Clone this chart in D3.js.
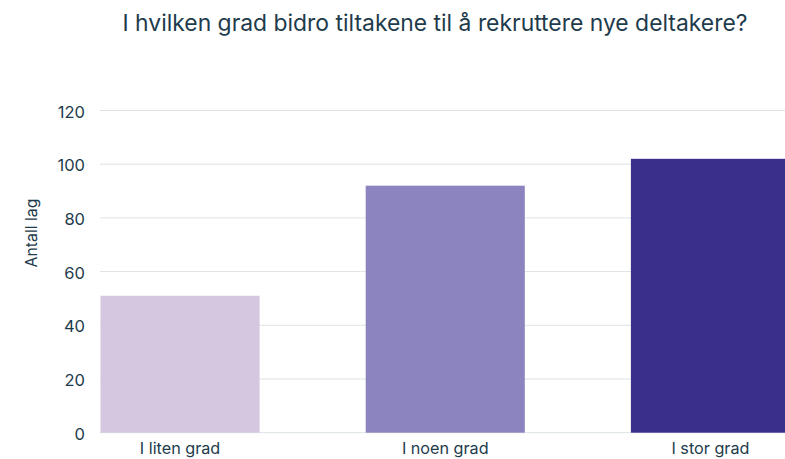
<!DOCTYPE html>
<html><head><meta charset="utf-8">
<script src="https://cdn.jsdelivr.net/npm/d3@7"></script>
<style>body{margin:0;background:#fff}svg{display:block;font-family:Inter,"Open Sans",sans-serif}</style>
</head><body><svg id="c" width="785" height="459"></svg>
<script>
const categories = ["I liten grad", "I noen grad", "I stor grad"];
const values = [51, 92, 102];
const colors = ["#d5c7e0", "#8c84bf", "#3a2f8a"];
const yTicks = [0, 20, 40, 60, 80, 100, 120];
const title = "I hvilken grad bidro tiltakene til å rekruttere nye deltakere?";
const yLabel = "Antall lag";

const svg = d3.select("#c");
const textColor = "#1e3b4b";
const x = d3.scaleBand().domain(categories).range([100.5, 790]).paddingInner(0.4).paddingOuter(0);
const y = d3.scaleLinear().domain([0, 120]).range([432.7, 110.5]);

// gridlines
svg.append("g").selectAll("line").data(yTicks).join("line")
  .attr("x1", 100).attr("x2", 785)
  .attr("y1", d => y(d)).attr("y2", d => y(d))
  .attr("stroke", "#dde3e6").attr("stroke-width", 1);

// bars
svg.append("g").selectAll("rect").data(values).join("rect")
  .attr("x", (d, i) => x(categories[i]))
  .attr("width", x.bandwidth())
  .attr("y", d => y(d))
  .attr("height", d => y(0) - y(d))
  .attr("fill", (d, i) => colors[i]);

// y axis
const yAxis = svg.append("g").attr("transform", "translate(100,0)")
  .call(d3.axisLeft(y).tickValues(yTicks).tickSize(0).tickPadding(15));
yAxis.select(".domain").remove();
yAxis.selectAll("text").attr("font-size", 16.5).attr("fill", textColor).attr("font-family", "Inter, sans-serif").attr("dy", "0.4em");

// x axis
const xAxis = svg.append("g").attr("transform", `translate(0,${y(0)})`)
  .call(d3.axisBottom(x).tickSize(0).tickPadding(10));
xAxis.select(".domain").remove();
xAxis.selectAll("text").attr("font-size", 16.2).attr("fill", textColor).attr("font-family", "Inter, sans-serif");

// y label
svg.append("text").attr("transform", "translate(37,233) rotate(-90)")
  .attr("text-anchor", "middle").attr("font-size", 15.8).attr("fill", textColor)
  .text(yLabel);

// title
const t = svg.append("text").attr("x", 435).attr("y", 31).attr("text-anchor", "middle")
  .attr("font-size", 22.5).attr("fill", textColor).text(title);
t.attr("textLength", 625).attr("lengthAdjust", "spacingAndGlyphs");
</script></body></html>
